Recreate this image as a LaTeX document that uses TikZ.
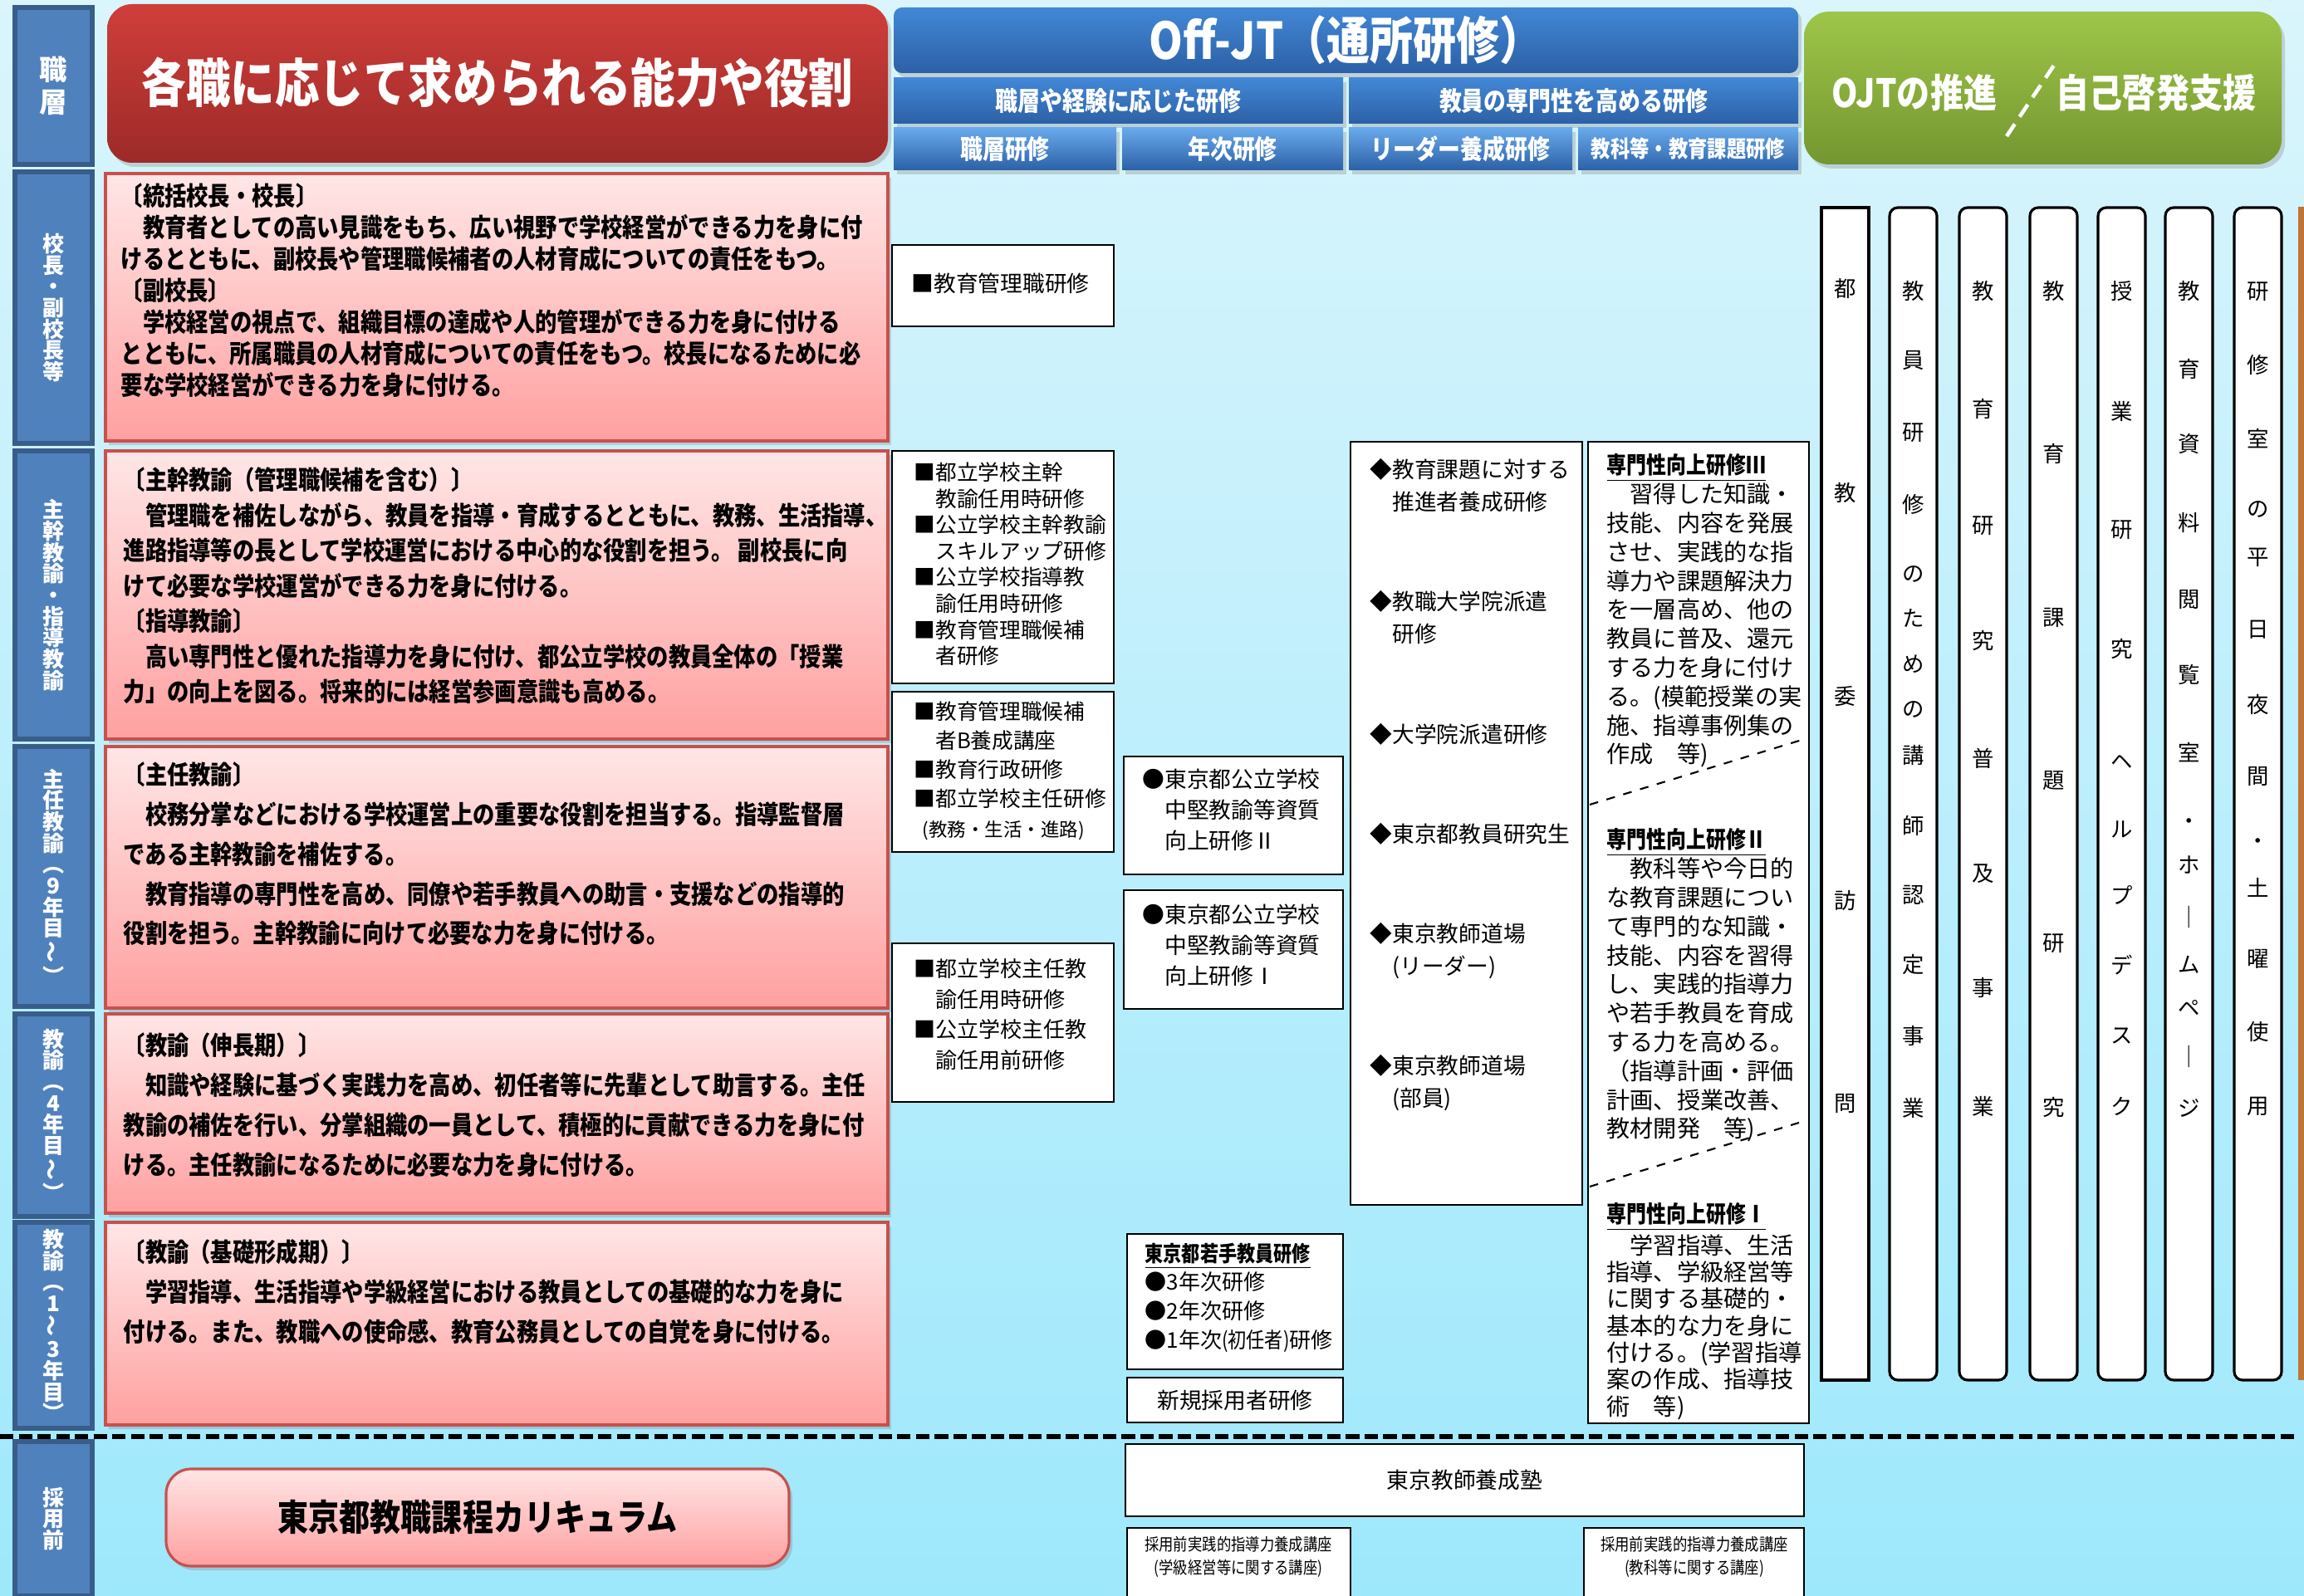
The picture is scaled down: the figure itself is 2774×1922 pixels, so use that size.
\documentclass[tikz,border=0pt]{standalone}
\usepackage{fontspec}
\setmainfont{Noto Sans CJK JP}
\newfontfamily\cnd[FakeStretch=0.85]{Noto Sans CJK JP}
\usetikzlibrary{fit,shadows}
\definecolor{bgtop}{RGB}{218,245,252}
\definecolor{bgbot}{RGB}{158,232,252}
\definecolor{lblue}{RGB}{79,129,189}
\definecolor{lbluedk}{RGB}{56,93,138}
\definecolor{hbtop}{RGB}{66,136,214}
\definecolor{hbbot}{RGB}{44,96,166}
\definecolor{tabtop}{RGB}{104,170,236}
\definecolor{redtop}{RGB}{208,62,58}
\definecolor{redbot}{RGB}{156,42,40}
\definecolor{grntop}{RGB}{158,198,72}
\definecolor{grnbot}{RGB}{116,150,48}
\definecolor{pinktop}{RGB}{255,230,230}
\definecolor{pinkbot}{RGB}{255,160,160}
\definecolor{pinkline}{RGB}{200,80,77}
\definecolor{barbrown}{RGB}{192,116,56}
\tikzset{
  frame/.style={inner sep=0pt, outer sep=0pt},
  shade/.style={drop shadow={shadow xshift=0.04cm, shadow yshift=-0.05cm, opacity=0.3}},
  rowlbl/.style={frame, draw=lbluedk, line width=1.5pt, fill=lblue},
  lbltxt/.style={text=white, inner sep=0pt, align=center, font=\bfseries\fontsize{7.4}{7.3}\selectfont},
  redhead/.style={frame, shade, rounded corners=0.3cm, top color=redtop, bottom color=redbot},
  bluehead/.style={frame, shade, top color=hbtop, bottom color=hbbot},
  tabhead/.style={frame, shade, top color=tabtop, bottom color=hbbot},
  grnhead/.style={frame, shade, rounded corners=0.3cm, top color=grntop, bottom color=grnbot},
  headtxt/.style={text=white, inner sep=0pt, font=\bfseries\cnd\fontsize{9}{10}\selectfont},
  pinkbox/.style={frame, shade, draw=pinkline, line width=0.9pt, top color=pinktop, bottom color=pinkbot},
  pinktxt/.style={anchor=north west, inner sep=0pt, align=left, font=\bfseries\cnd\fontsize{8.8}{10.8}\selectfont},
  wbox/.style={frame, draw=black, line width=0.6pt, fill=white},
  wtxt/.style={anchor=north west, inner sep=0pt, align=left, font=\fontsize{7.6}{10.5}\selectfont},
  vcol/.style={frame, draw=black, line width=0.9pt, fill=white, rounded corners=0.1cm},
  vchar/.style={inner sep=0pt, font=\fontsize{7.5}{8}\selectfont},
  cut/.style={draw=black, line width=0.6pt, dashed}
}
\begin{document}
\begin{tikzpicture}[x=0.01cm, y=-0.01cm]
  \useasboundingbox (0,0) rectangle (2774,1922);
  \fill[top color=bgtop, bottom color=bgbot] (0,0) rectangle (2774,1922);
  \fill[barbrown] (2767,249) rectangle (2774,1662);

  % row labels
  \node[rowlbl, fit={(18,9) (111,198)}] (r0) {};
  \node[lbltxt, font=\bfseries\fontsize{9.5}{11}\selectfont] (l0) at (r0) {職\\層};
  \foreach \n/\ya/\yb/\t in {1/207/534/{校\\長\\・\\副\\校\\長\\等},
      2/543/890/{主\\幹\\教\\諭\\・\\指\\導\\教\\諭},
      3/899/1212/{主\\任\\教\\諭\\︵\\9\\年\\目\\\rotatebox{90}{～}\\︶},
      4/1221/1465/{教\\諭\\︵\\4\\年\\目\\\rotatebox{90}{～}\\︶},
      5/1472/1720/{教\\諭\\︵\\1\\\rotatebox{90}{～}\\3\\年\\目\\︶},
      6/1736/1922/{採\\用\\前}}{
    \node[rowlbl, fit={(18,\ya) (111,\yb)}] (r\n) {};
    \node[lbltxt] (l\n) at (r\n) {\t};
  }

  % headers
  \node[redhead, fit={(129,5) (1069,196)}] (red) {};
  \node[headtxt, font=\bfseries\cnd\fontsize{17.9}{20}\selectfont] (t-red) at (599,99) {各職に応じて求められる能力や役割};
  \node[bluehead, rounded corners=0.1cm, fit={(1076,9) (2165,88)}] (offjt) {};
  \node[headtxt, font=\bfseries\cnd\fontsize{17.4}{20}\selectfont] (t-offjt) at (offjt) {Off-JT（通所研修）};
  \node[bluehead, fit={(1076,94) (1617,149)}] (h-exp) {};
  \node[headtxt] (t-exp) at (h-exp) {職層や経験に応じた研修};
  \node[bluehead, fit={(1624,94) (2165,149)}] (h-pro) {};
  \node[headtxt] (t-pro) at (h-pro) {教員の専門性を高める研修};
  \node[tabhead, fit={(1076,154) (1344,205)}] (h-rank) {};
  \node[headtxt] (t-rank) at (h-rank) {職層研修};
  \node[tabhead, fit={(1351,154) (1617,205)}] (h-year) {};
  \node[headtxt] (t-year) at (h-year) {年次研修};
  \node[tabhead, fit={(1624,154) (1893,205)}] (h-lead) {};
  \node[headtxt] (t-lead) at (h-lead) {リーダー養成研修};
  \node[tabhead, fit={(1900,154) (2165,205)}] (h-subj) {};
  \node[headtxt, font=\bfseries\cnd\fontsize{7.8}{9}\selectfont] (t-subj) at (h-subj) {教科等・教育課題研修};
  \node[grnhead, fit={(2172,14) (2747,198)}] (ojt) {};
  \node[headtxt, font=\bfseries\cnd\fontsize{13.4}{15}\selectfont] (t-ojt) at (2305,112) {OJTの推進};
  \node[headtxt, font=\bfseries\cnd\fontsize{13.4}{15}\selectfont] (t-self) at (2596,112) {自己啓発支援};
  \coordinate (sl-a) at (2416,164);
  \coordinate (sl-b) at (2476,74);
  \draw[white, line width=1.3pt, dash pattern=on 5pt off 3pt] (sl-a) -- (sl-b);

  % role boxes
  \foreach \n/\ya/\yb in {1/209/531, 2/543/890, 3/899/1214, 4/1221/1461, 5/1472/1716}
    \node[pinkbox, fit={(127,\ya) (1069,\yb)}] (p\n) {};
  \node[pinktxt] (t-p1) at (145,220) {〔統括校長・校長〕\\
    　教育者としての高い見識をもち、広い視野で学校経営ができる力を身に付\\
    けるとともに、副校長や管理職候補者の人材育成についての責任をもつ。\\
    〔副校長〕\\
    　学校経営の視点で、組織目標の達成や人的管理ができる力を身に付ける\\
    とともに、所属職員の人材育成についての責任をもつ。校長になるために必\\
    要な学校経営ができる力を身に付ける。};
  \node[pinktxt, font=\bfseries\cnd\fontsize{8.8}{12.1}\selectfont] (t-p2) at (148,562) {〔主幹教諭（管理職候補を含む）〕\\
    　管理職を補佐しながら、教員を指導・育成するとともに、教務、生活指導、\\
    進路指導等の長として学校運営における中心的な役割を担う。 副校長に向\\
    けて必要な学校運営ができる力を身に付ける。\\
    〔指導教諭〕\\
    　高い専門性と優れた指導力を身に付け、都公立学校の教員全体の「授業\\
    力」の向上を図る。将来的には経営参画意識も高める。};
  \node[pinktxt, font=\bfseries\cnd\fontsize{8.8}{13.6}\selectfont] (t-p3) at (148,917) {〔主任教諭〕\\
    　校務分掌などにおける学校運営上の重要な役割を担当する。指導監督層\\
    である主幹教諭を補佐する。\\
    　教育指導の専門性を高め、同僚や若手教員への助言・支援などの指導的\\
    役割を担う。主幹教諭に向けて必要な力を身に付ける。};
  \node[pinktxt, font=\bfseries\cnd\fontsize{8.8}{13.6}\selectfont] (t-p4) at (148,1243) {〔教諭（伸長期）〕\\
    　知識や経験に基づく実践力を高め、初任者等に先輩として助言する。主任\\
    教諭の補佐を行い、分掌組織の一員として、積極的に貢献できる力を身に付\\
    ける。主任教諭になるために必要な力を身に付ける。};
  \node[pinktxt, font=\bfseries\cnd\fontsize{8.8}{13.6}\selectfont] (t-p5) at (148,1492) {〔教諭（基礎形成期）〕\\
    　学習指導、生活指導や学級経営における教員としての基礎的な力を身に\\
    付ける。また、教職への使命感、教育公務員としての自覚を身に付ける。};

  % rank trainings
  \node[wbox, fit={(1074,295) (1341,393)}] (k1) {};
  \node[wtxt, anchor=west] (t-k1) at (1097,341) {■教育管理職研修};
  \node[wbox, fit={(1074,543) (1341,823)}] (k2) {};
  \node[wtxt, font=\fontsize{7.3}{9}\selectfont] (t-k2) at (1100,556) {■都立学校主幹\\　教諭任用時研修\\■公立学校主幹教諭\\　スキルアップ研修\\■公立学校指導教\\　諭任用時研修\\■教育管理職候補\\　者研修};
  \node[wbox, fit={(1074,833) (1341,1026)}] (k3) {};
  \node[wtxt, font=\fontsize{7.3}{10}\selectfont] (t-k3) at (1100,844) {■教育管理職候補\\　者B養成講座\\■教育行政研修\\■都立学校主任研修\\{\fontsize{6.4}{10}\selectfont\ \ (教務・生活・進路)}};
  \node[wbox, fit={(1074,1136) (1341,1327)}] (k4) {};
  \node[wtxt, font=\fontsize{7.4}{10.4}\selectfont] (t-k4) at (1100,1154) {■都立学校主任教\\　諭任用時研修\\■公立学校主任教\\　諭任用前研修};

  % year trainings
  \node[wbox, fit={(1353,911) (1617,1053)}] (y2) {};
  \node[wtxt] (t-y2) at (1375,925) {●東京都公立学校\\　中堅教諭等資質\\　向上研修Ⅱ};
  \node[wbox, fit={(1353,1072) (1617,1215)}] (y1) {};
  \node[wtxt] (t-y1) at (1375,1088) {●東京都公立学校\\　中堅教諭等資質\\　向上研修Ⅰ};
  \node[wbox, fit={(1357,1486) (1617,1649)}] (yw) {};
  \node[wtxt, font=\fontsize{7.4}{9.9}\selectfont] (t-yw) at (1378,1496) {{\bfseries\cnd\underline{東京都若手教員研修}}\\●3年次研修\\●2年次研修\\●1年次{\cnd(初任者)}研修};
  \node[wbox, fit={(1357,1659) (1617,1713)}] (yn) {};
  \node[wtxt, anchor=center] (t-yn) at (yn) {新規採用者研修};

  % leader trainings
  \node[wbox, fit={(1626,532) (1905,1451)}] (ld) {};
  \foreach \y/\t [count=\n] in {552/{◆教育課題に対する\\　推進者養成研修}, 711/{◆教職大学院派遣\\　研修},
      871/{◆大学院派遣研修}, 991/{◆東京都教員研究生}, 1111/{◆東京教師道場\\　(リーダー)},
      1270/{◆東京教師道場\\　(部員)}}
    \node[wtxt, font=\fontsize{7.6}{11}\selectfont] (t-ld\n) at (1649,\y) {\t};

  % subject trainings
  \node[wbox, fit={(1912,532) (2178,1714)}] (sb) {};
  \coordinate (c3a) at (1914,969);
  \coordinate (c3b) at (2176,889);
  \coordinate (c2a) at (1914,1429);
  \coordinate (c2b) at (2166,1352);
  \draw[cut] (c3a) -- (c3b);
  \draw[cut] (c2a) -- (c2b);
  \node[wtxt, font=\fontsize{8}{9.9}\selectfont] (t-s3) at (1934,546) {{\bfseries\cnd\underline{専門性向上研修Ⅲ}}\\
    　習得した知識・\\技能、内容を発展\\させ、実践的な指\\導力や課題解決力\\を一層高め、他の\\教員に普及、還元\\する力を身に付け\\る。(模範授業の実\\施、指導事例集の\\作成　等)};
  \node[wtxt, font=\fontsize{8}{9.9}\selectfont] (t-s2) at (1934,997) {{\bfseries\cnd\underline{専門性向上研修Ⅱ}}\\
    　教科等や今日的\\な教育課題につい\\て専門的な知識・\\技能、内容を習得\\し、実践的指導力\\や若手教員を育成\\する力を高める。\\（指導計画・評価\\計画、授業改善、\\教材開発　等)};
  \node[wtxt, font=\fontsize{8}{9.2}\selectfont] (t-s1) at (1934,1448) {{\bfseries\cnd\underline{専門性向上研修Ⅰ}}\\
    　学習指導、生活\\指導、学級経営等\\に関する基礎的・\\基本的な力を身に\\付ける。(学習指導\\案の作成、指導技\\術　等)};

  % OJT columns
  \node[vcol, rounded corners=0pt, fit={(2193,250) (2250,1662)}] (v1) {};
  \foreach \n/\xl in {2/2275, 3/2359, 4/2444, 5/2526, 6/2607, 7/2690}
    \node[vcol, fit={(\xl,250) ({\xl+57},1662)}] (v\n) {};
  \foreach \c/\y [count=\k] in {都/348, 教/594, 委/839, 訪/1085, 問/1329}
    \node[vchar] (c1-\k) at (v1.center |- 0,\y) {\c};
  \foreach \c/\y [count=\k] in {教/351, 員/434, 研/521, 修/607, の/691, た/744, め/800, の/854, 講/909, 師/994, 認/1078, 定/1162, 事/1248, 業/1334}
    \node[vchar] (c2-\k) at (v2.center |- 0,\y) {\c};
  \foreach \c/\y [count=\k] in {教/351, 育/492, 研/633, 究/772, 普/913, 及/1052, 事/1190, 業/1332}
    \node[vchar] (c3-\k) at (v3.center |- 0,\y) {\c};
  \foreach \c/\y [count=\k] in {教/351, 育/546, 課/744, 題/940, 研/1136, 究/1334}
    \node[vchar] (c4-\k) at (v4.center |- 0,\y) {\c};
  \foreach \c/\y [count=\k] in {授/351, 業/495, 研/638, 究/782, ヘ/918, ル/999, プ/1078, デ/1162, ス/1248, ク/1332}
    \node[vchar] (c5-\k) at (v5.center |- 0,\y) {\c};
  \foreach \c/\y [count=\k] in {教/351, 育/444, 資/535, 料/629, 閲/722, 覧/812, 室/906, ・/992, ホ/1042, ｜/1104, ム/1162, ペ/1214, ｜/1272, ジ/1334}
    \node[vchar] (c6-\k) at (v6.center |- 0,\y) {\c};
  \foreach \c/\y [count=\k] in {研/351, 修/439, 室/528, の/613, 平/671, 日/758, 夜/848, 間/935, ・/1016, 土/1069, 曜/1155, 使/1243, 用/1332}
    \node[vchar] (c7-\k) at (v7.center |- 0,\y) {\c};

  % before hiring
  \coordinate (hl-a) at (0,1730);
  \coordinate (hl-b) at (2766,1730);
  \draw[black, line width=1.8pt, dash pattern=on 4.6pt off 1.8pt] (hl-a) -- (hl-b);
  \node[pinkbox, rounded corners=0.3cm, fit={(200,1769) (950,1886)}] (cur) {};
  \node[headtxt, text=black, font=\bfseries\cnd\fontsize{12.4}{14}\selectfont] (t-cur) at (cur) {東京都教職課程カリキュラム};
  \node[wbox, fit={(1355,1739) (2172,1826)}] (juku) {};
  \node[wtxt, anchor=center] (t-juku) at (juku) {東京教師養成塾};
  \node[wbox, fit={(1357,1840) (1626,1930)}] (pre1) {};
  \node[wtxt, anchor=center, align=center, font=\cnd\fontsize{5.8}{8}\selectfont] (t-pre1) at (1491,1875) {採用前実践的指導力養成講座\\(学級経営等に関する講座)};
  \node[wbox, fit={(1907,1840) (2172,1930)}] (pre2) {};
  \node[wtxt, anchor=center, align=center, font=\cnd\fontsize{5.8}{8}\selectfont] (t-pre2) at (2040,1875) {採用前実践的指導力養成講座\\(教科等に関する講座)};
\end{tikzpicture}
\end{document}
